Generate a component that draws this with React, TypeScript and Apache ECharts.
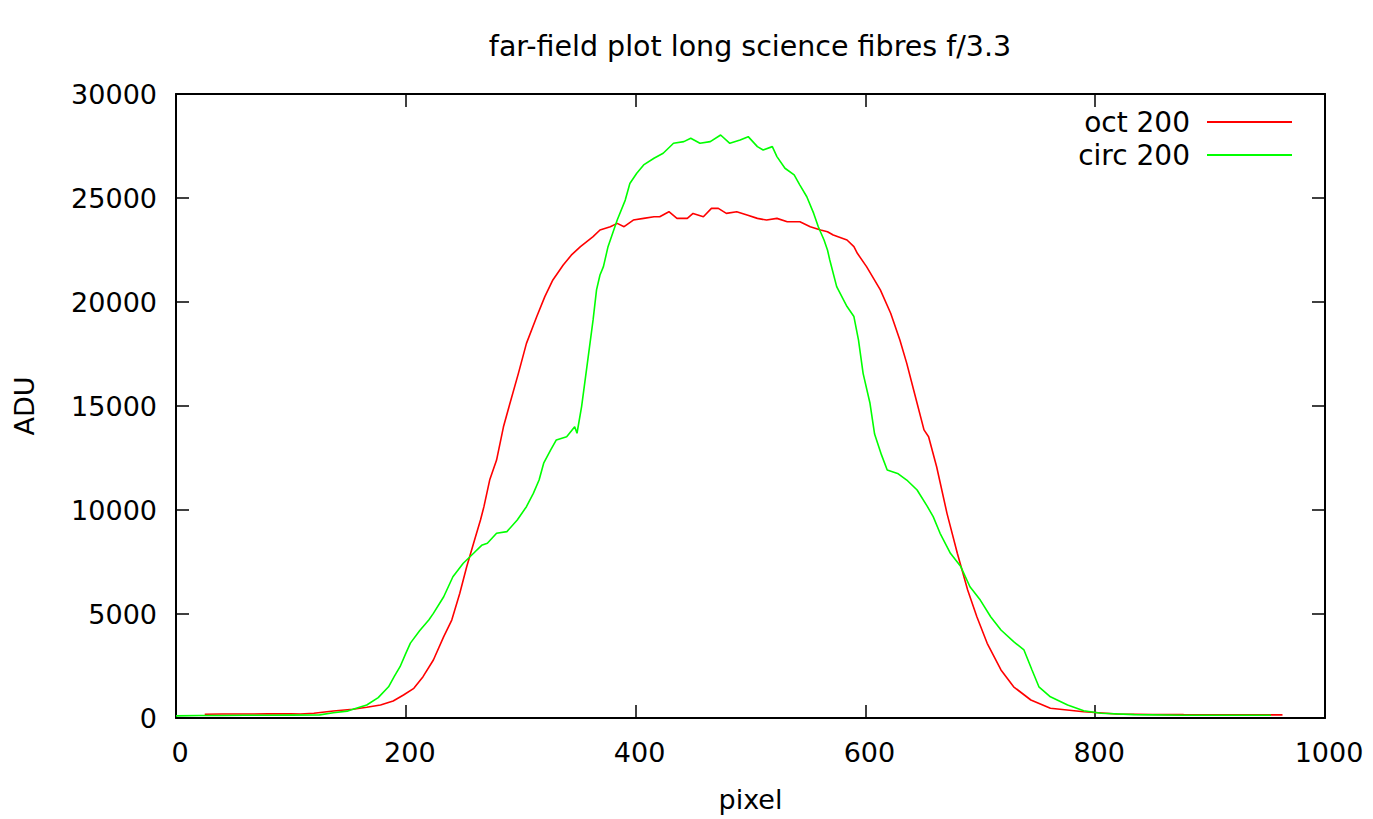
import React, { useEffect, useRef } from "react";
import * as echarts from "echarts";

const titleText = "far-field plot long science fibres f/3.3";
const xTicks = [0, 200, 400, 600, 800, 1000];
const yTicks = [0, 5000, 10000, 15000, 20000, 25000, 30000];

const octX = [25, 40, 60, 80, 100, 108, 120, 137, 154, 166, 178, 189, 198, 207, 215, 224, 233, 240, 247, 253, 259, 265, 268, 273, 279, 285, 290, 298, 305, 314, 321, 328, 337, 344, 352, 363, 369, 378, 384, 390, 398, 407, 416, 421, 429, 436, 445, 450, 459, 466, 472, 479, 488, 497, 506, 514, 523, 532, 543, 552, 561, 567, 572, 584, 590, 593, 601, 613, 622, 630, 636, 642, 651, 655, 662, 671, 680, 689, 697, 706, 718, 729, 744, 761, 790, 819, 850, 877, 910, 940, 963];
const octY = [180, 190, 190, 200, 200, 190, 230, 336, 418, 514, 625, 817, 1106, 1426, 1986, 2790, 3910, 4710, 6000, 7270, 8400, 9520, 10160, 11440, 12400, 14000, 15000, 16570, 18010, 19300, 20260, 21060, 21780, 22250, 22660, 23140, 23460, 23620, 23780, 23620, 23940, 24020, 24100, 24100, 24340, 24020, 24020, 24260, 24100, 24500, 24500, 24260, 24340, 24180, 24020, 23940, 24020, 23860, 23860, 23620, 23460, 23380, 23220, 22980, 22660, 22340, 21700, 20580, 19460, 18170, 17050, 15770, 13850, 13520, 12080, 9840, 7920, 6150, 4870, 3590, 2310, 1500, 865, 465, 300, 190, 170, 160, 155, 150, 150];

const circX = [0, 20, 40, 60, 80, 100, 125, 137, 149, 152, 166, 176, 185, 190, 195, 200, 204, 212, 220, 224, 233, 241, 250, 259, 266, 271, 279, 288, 297, 305, 311, 316, 320, 326, 331, 340, 347, 349, 353, 358, 363, 366, 369, 372, 376, 384, 391, 395, 401, 407, 416, 424, 433, 442, 448, 456, 465, 474, 482, 491, 498, 506, 511, 519, 523, 530, 538, 543, 549, 555, 559, 564, 567, 569, 575, 584, 590, 594, 598, 604, 608, 614, 619, 628, 636, 645, 654, 659, 665, 674, 683, 691, 700, 709, 718, 729, 738, 745, 751, 761, 776, 790, 805, 834, 877, 920, 953];
const circY = [100, 120, 120, 130, 130, 140, 150, 255, 330, 385, 625, 980, 1500, 2000, 2466, 3110, 3600, 4190, 4710, 5030, 5830, 6790, 7440, 7920, 8300, 8400, 8880, 8960, 9520, 10160, 10800, 11440, 12250, 12880, 13370, 13520, 14000, 13690, 14970, 17050, 19140, 20580, 21300, 21700, 22660, 23940, 24900, 25700, 26190, 26590, 26910, 27150, 27630, 27710, 27870, 27630, 27710, 28030, 27630, 27790, 27950, 27470, 27310, 27470, 26990, 26430, 26110, 25620, 25060, 24260, 23620, 22980, 22500, 22020, 20740, 19780, 19300, 18170, 16570, 15130, 13650, 12650, 11920, 11760, 11440, 10960, 10160, 9680, 8880, 7920, 7280, 6310, 5670, 4870, 4230, 3670, 3270, 2310, 1500, 1020, 625, 350, 225, 160, 130, 130, 130];

const FONT = "DejaVu Sans";

export default function App() {
  const ref = useRef<HTMLDivElement>(null);
  useEffect(() => {
    if (!ref.current) return;
    const chart = echarts.init(ref.current, undefined, { renderer: "svg" });
    const pair = (xs: number[], ys: number[]) => xs.map((x, i) => [x, ys[i]]);
    const axisLine = { show: true, onZero: false, lineStyle: { color: "#000", width: 2 } };
    const axisTick = { show: true, inside: true, length: 13, lineStyle: { color: "#000", width: 1.5 } };
    const lbl = { color: "#000", fontSize: 27, fontFamily: FONT };
    const plain = (v: number) => String(v);
    chart.setOption({
      animation: false,
      backgroundColor: "#fff",
      title: {
        text: titleText,
        left: 745,
        top: 27,
        textAlign: "center",
        textStyle: { color: "#000", fontSize: 28.5, fontWeight: "normal", fontFamily: FONT },
      },
      legend: {
        orient: "vertical",
        right: 81,
        top: 108,
        align: "right",
        padding: 0,
        itemGap: 5,
        itemWidth: 85,
        itemHeight: 2,
        textStyle: { color: "#000", fontSize: 28, fontFamily: FONT, lineHeight: 28, padding: [0, 12, 0, 0] },
        data: [
          { name: "oct 200", icon: "rect" },
          { name: "circ 200", icon: "rect" },
        ],
      },
      grid: { left: 176, right: 48, top: 94, bottom: 101, containLabel: false },
      xAxis: [
        {
          type: "value",
          min: xTicks[0],
          max: xTicks[xTicks.length - 1],
          interval: 200,
          position: "bottom",
          axisLine,
          axisTick,
          splitLine: { show: false },
          axisLabel: { ...lbl, margin: 21, padding: [0, 0, 0, 8], formatter: plain },
          name: "pixel",
          nameLocation: "middle",
          nameGap: 68,
          nameTextStyle: lbl,
        },
        {
          type: "value",
          min: xTicks[0],
          max: xTicks[xTicks.length - 1],
          interval: 200,
          position: "top",
          axisLine,
          axisTick,
          splitLine: { show: false },
          axisLabel: { show: false },
        },
      ],
      yAxis: [
        {
          type: "value",
          min: yTicks[0],
          max: yTicks[yTicks.length - 1],
          interval: 5000,
          position: "left",
          axisLine,
          axisTick,
          splitLine: { show: false },
          axisLabel: { ...lbl, margin: 19, formatter: plain },
          name: "ADU",
          nameLocation: "middle",
          nameRotate: 90,
          nameGap: 138,
          nameTextStyle: lbl,
        },
        {
          type: "value",
          min: yTicks[0],
          max: yTicks[yTicks.length - 1],
          interval: 5000,
          position: "right",
          axisLine,
          axisTick,
          splitLine: { show: false },
          axisLabel: { show: false },
        },
      ],
      series: [
        {
          name: "oct 200",
          type: "line",
          data: pair(octX, octY),
          showSymbol: false,
          symbol: "none",
          color: "#ff0000",
          lineStyle: { color: "#ff0000", width: 1.6 },
          itemStyle: { color: "#ff0000" },
        },
        {
          name: "circ 200",
          type: "line",
          data: pair(circX, circY),
          showSymbol: false,
          symbol: "none",
          color: "#00ff00",
          lineStyle: { color: "#00ff00", width: 1.6 },
          itemStyle: { color: "#00ff00" },
        },
      ],
    });
    return () => chart.dispose();
  }, []);
  return (
    <div
      ref={ref}
      style={{ position: "fixed", left: 0, top: 0, width: 1373, height: 819, background: "#fff" }}
    />
  );
}
